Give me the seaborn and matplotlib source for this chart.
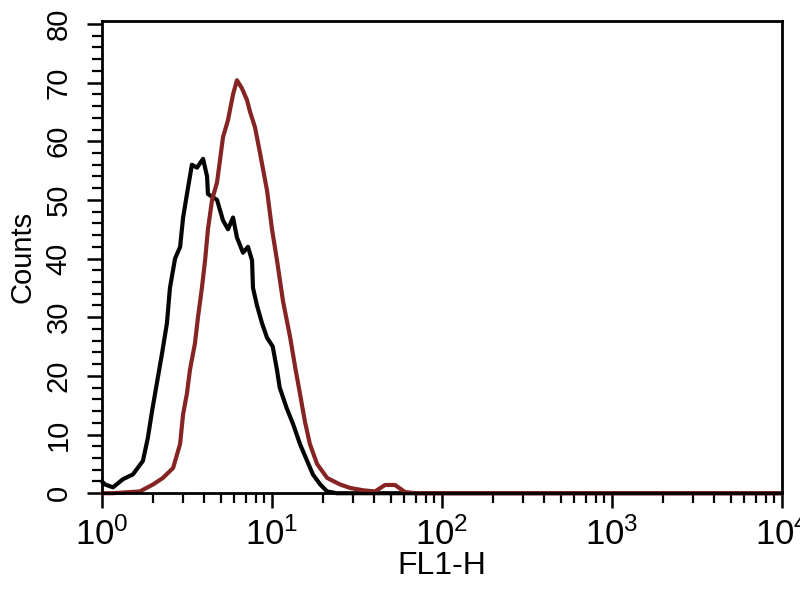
import pandas as pd
import matplotlib
matplotlib.use("Agg")
import matplotlib.pyplot as plt
import matplotlib.ticker as mtick
import seaborn as sns

# FL1-H histogram
control_fl1 = [1.0, 1.04, 1.16, 1.33, 1.52, 1.74, 1.86, 1.97, 2.11, 2.26, 2.41, 2.51,
               2.69, 2.88, 3.0, 3.16, 3.38, 3.62, 3.93, 4.15, 4.2, 4.75, 5.15, 5.51,
               5.9, 6.22, 6.75, 7.22, 7.63, 7.73, 8.16, 8.73, 9.35, 10.1, 10.7, 11.1,
               12.2, 13.3, 14.6, 16.1, 17.4, 19.2, 21.1, 24.0, 100.0, 10000.0]
control_counts = [2.0, 1.5, 1.0, 2.4, 3.2, 5.5, 9.4, 14, 19, 24, 29, 35,
                  40, 42, 47, 51, 56, 55.5, 57, 54, 51, 50, 46.5, 45,
                  47, 43.6, 41, 42, 39.7, 35, 32, 29, 26.5, 25, 21, 18,
                  14.5, 11.8, 8.4, 5.5, 3.2, 1.5, 0.3, 0, 0, 0]

stained_fl1 = [1.0, 1.16, 1.67, 2.0, 2.28, 2.62, 2.88, 3.0, 3.16, 3.29, 3.52, 3.67,
               3.87, 4.04, 4.2, 4.44, 4.75, 4.94, 5.15, 5.51, 5.9, 6.22, 6.66, 7.13,
               7.43, 7.94, 8.5, 9.35, 10.0, 10.7, 11.6, 12.8, 13.7, 14.6, 15.6, 16.7,
               18.4, 21.1, 25.1, 28.8, 34.3, 40.4, 46.2, 52.9, 60.6, 70.0, 10000.0]
stained_counts = [0, 0, 0.3, 1.5, 2.6, 4.3, 8.4, 13.5, 17, 21, 25.5, 30,
                  35, 39.7, 45, 50, 53, 56.7, 60.7, 63.6, 68, 70.4, 69, 67,
                  65, 62.4, 58, 51.6, 45, 39.7, 32.8, 26.5, 21.4, 17, 12.3, 8.4,
                  5, 2.6, 1.5, 0.9, 0.5, 0.3, 1.4, 1.4, 0.2, 0, 0]

y_ticks = [0, 10, 20, 30, 40, 50, 60, 70, 80]

df = pd.concat([
    pd.DataFrame({"FL1-H": control_fl1, "Counts": control_counts, "sample": "control"}),
    pd.DataFrame({"FL1-H": stained_fl1, "Counts": stained_counts, "sample": "stained"}),
])

sns.set_style("ticks")
plt.rcParams["font.family"] = ["Liberation Sans Narrow", "Liberation Sans", "DejaVu Sans"]
plt.rcParams["mathtext.fontset"] = "custom"
plt.rcParams["mathtext.rm"] = "Liberation Sans Narrow"
plt.rcParams["mathtext.it"] = "Liberation Sans Narrow"
plt.rcParams["text.color"] = "black"
plt.rcParams["axes.labelcolor"] = "black"
plt.rcParams["xtick.color"] = "black"
plt.rcParams["ytick.color"] = "black"

fig = plt.figure(figsize=(8, 6), dpi=100)
ax = fig.add_axes([0.1275, 0.178, 0.85, 0.787])

ax.set_xscale("log")
plot = sns.lineplot(data=df, x="FL1-H", y="Counts", hue="sample", sort=False,
                    estimator=None, palette={"control": "#050505", "stained": "#862424"},
                    linewidth=3.0, ax=ax, legend=False)
for line in ax.lines:
    line.set_clip_on(False)

ax.set_xlim(1, 10000)
ax.set_ylim(0, 80.5)
ax.set_yticks(y_ticks)
ax.yaxis.set_minor_locator(mtick.MultipleLocator(2))
ax.xaxis.set_major_locator(mtick.LogLocator(base=10))
ax.xaxis.set_minor_locator(mtick.LogLocator(base=10, subs=range(2, 10)))
ax.xaxis.set_minor_formatter(mtick.NullFormatter())

for side in ["left", "right", "top", "bottom"]:
    ax.spines[side].set_linewidth(2)
    ax.spines[side].set_color("black")

ax.tick_params(axis="both", which="major", length=11, width=1.8, direction="out")
ax.tick_params(axis="both", which="minor", length=7, width=1.6, direction="out")
ax.tick_params(axis="y", labelsize=21, pad=10, labelrotation=90)
ax.tick_params(axis="x", labelsize=25, pad=6)
for lab in ax.get_yticklabels():
    lab.set_va("center")

ax.set_xlabel("FL1-H", fontsize=23, labelpad=0)
ax.set_ylabel("Counts", fontsize=21, labelpad=6)

fig.savefig("out.png", dpi=100)
